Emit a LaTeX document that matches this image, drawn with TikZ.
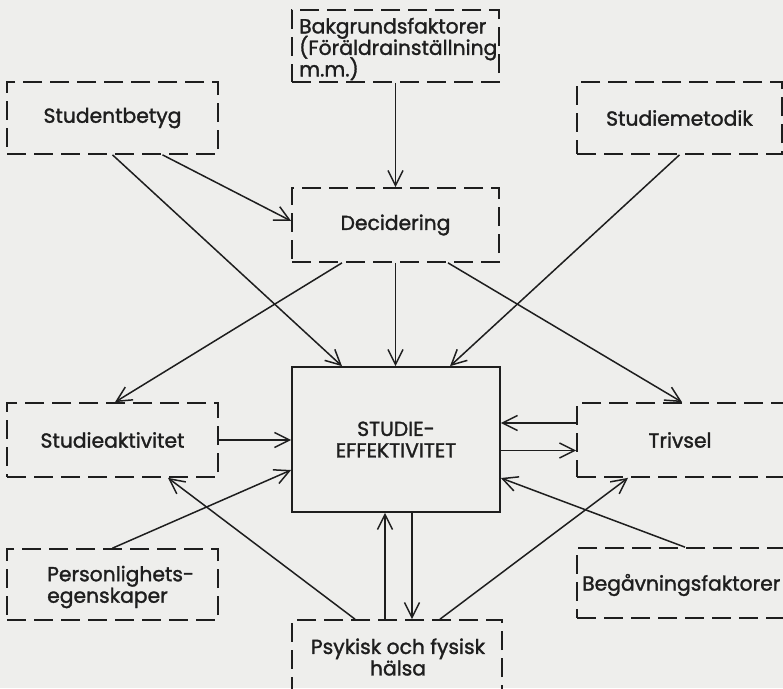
\documentclass[tikz,border=0pt]{standalone}
\usepackage{fontspec}
\setmainfont{Poppins}[FakeBold=1.5]
\usetikzlibrary{arrows.meta}
\definecolor{paper}{RGB}{238,238,236}
\definecolor{ink}{RGB}{30,30,30}
\newcommand\lblsize{\fontsize{20.3}{21.5}\selectfont\setlength{\lineskiplimit}{-100pt}\relax}
\tikzset{
  dbox/.style={draw=ink, line width=1.7pt, dash pattern=on 19pt off 8pt, minimum width=#1, inner sep=0pt},
  sbox/.style={draw=ink, line width=1.7pt, inner sep=0pt},
  lbl/.style={text=ink, font=\lblsize, inner sep=0pt},
  conn/.style={draw=ink, line width=1.5pt, -{Straight Barb[length=15pt,width=15pt,line width=1.5pt]}}
}
\begin{document}
\begin{tikzpicture}[x=1pt,y=-1pt]
\fill[paper] (0,0) rectangle (783,688);
\useasboundingbox (0,0) rectangle (783,688);
% boxes
\node[dbox=207pt, minimum height=72pt] (bak) at (395.5,46) {};
\node[dbox=211pt, minimum height=72pt] (sb) at (112.5,118) {};
\node[dbox=205pt, minimum height=72pt] (sm) at (679.5,118) {};
\node[dbox=207pt, minimum height=74pt] (dec) at (395.5,225) {};
\node[sbox, minimum width=208pt, minimum height=145pt] (se) at (396,439.5) {};
\node[dbox=211pt, minimum height=74pt] (sa) at (112.5,440) {};
\node[dbox=218pt, minimum height=74pt] (tr) at (686,440) {};
\node[dbox=211pt, minimum height=71pt] (pe) at (112.5,584.5) {};
\node[dbox=218pt, minimum height=70pt] (bg) at (686,583) {};
\node[dbox=210pt, minimum height=90pt] (ph) at (397,665) {};
% texts
\node[lbl, anchor=west, align=left] (tbak) at (299,49) {Bakgrundsfaktorer\\(Föräldrainställning\\m.m.)};
\node[lbl] (tsb) at (sb) {Studentbetyg};
\node[lbl] (tsm) at (sm) {Studiemetodik};
\node[lbl] (tdec) at (dec) {Decidering};
\node[lbl, align=center] (tse) at (se) {STUDIE-\\EFFEKTIVITET};
\node[lbl] (tsa) at (sa) {Studieaktivitet};
\node[lbl] (ttr) at (680,440) {Trivsel};
\node[lbl, anchor=west, align=left] (tpe) at (47,587) {Personlighets-\\egenskaper};
\node[lbl, anchor=west] (tbg) at (582,585) {Begåvningsfaktorer};
\node[lbl, align=center] (tph) at (398,657) {Psykisk och fysisk\\hälsa};
% connectors
\draw[conn] (bak.south) -- (dec.north);
\draw[conn] ([xshift=50pt]sb.south) -- ([yshift=4pt]dec.west);
\draw[conn] (sb.south) -- ([xshift=-54pt]se.north);
\draw[conn] ([xshift=-53.5pt]dec.south) -- ([xshift=2.5pt]sa.north);
\draw[conn] (dec.south) -- (dec.south |- se.north);
\draw[conn] (sm.south) -- ([xshift=54pt]se.north);
\draw[conn] ([xshift=52.5pt]dec.south) -- ([xshift=-4pt]tr.north);
\draw[conn] ([yshift=17pt]tr.west) -- ([yshift=17pt]tr.west -| se.east);
\draw[conn] ([yshift=-11pt]se.east) -- ([yshift=-11pt]se.east -| tr.west);
\draw[conn] (sa.east) -- (sa.east -| se.west);
\draw[conn] (pe.north) -- ([yshift=-30.5pt]se.west);
\draw[conn] ([xshift=-42pt]ph.north) -- ([xshift=55.5pt]sa.south);
\draw[conn] ([xshift=-12pt]ph.north) -- ([xshift=-12pt]ph.north |- se.south);
\draw[conn] ([xshift=16pt]se.south) -- ([xshift=16pt]se.south |- ph.north);
\draw[conn] ([xshift=43pt]ph.north) -- ([xshift=-58pt]tr.south);
\draw[conn] ([xshift=-1pt]bg.north) -- ([yshift=-38.5pt]se.east);
\end{tikzpicture}
\end{document}
